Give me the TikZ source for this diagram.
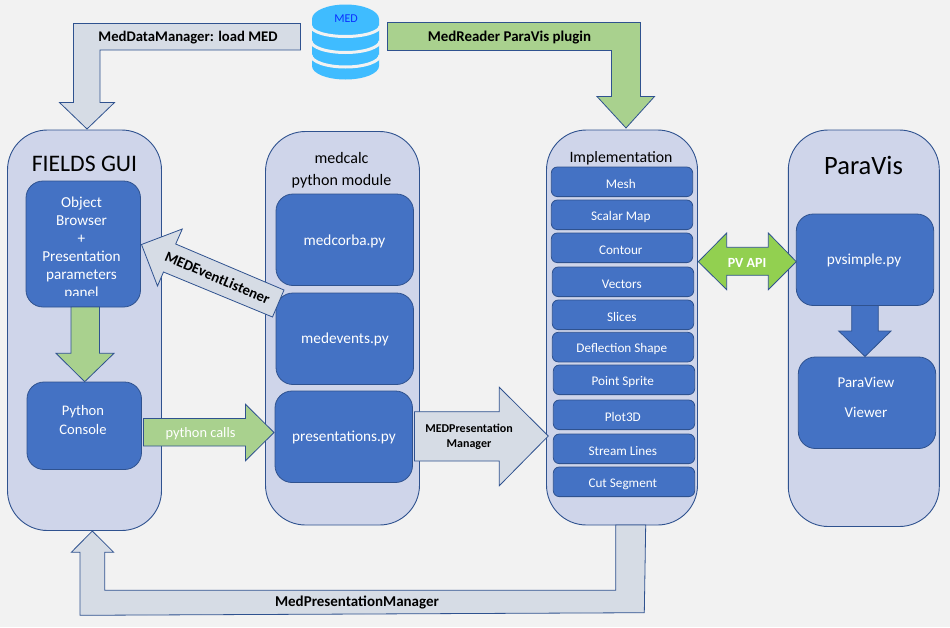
\documentclass[tikz,border=0pt]{standalone}
\usepackage{fontspec}
\usetikzlibrary{calc}
\setmainfont{Carlito}
\definecolor{bgc}{HTML}{F2F2F2}
\definecolor{panelc}{HTML}{CFD5EA}
\definecolor{edgec}{HTML}{2F528F}
\definecolor{bluec}{HTML}{4472C4}
\definecolor{greenc}{HTML}{A9D18E}
\definecolor{greyc}{HTML}{D6DCE5}
\definecolor{limec}{HTML}{92D050}
\definecolor{dbc}{HTML}{3FBCFF}
\definecolor{medtxt}{HTML}{0A32FF}
\tikzset{
 panelbox/.style={draw=edgec,fill=panelc,line width=.9pt,rounded corners=40pt},
 bluebox/.style={draw=edgec,fill=bluec,line width=.8pt,rounded corners=17pt},
 itembox/.style={draw=edgec,fill=bluec,line width=.8pt,rounded corners=6pt},
 greyarrow/.style={draw=edgec,fill=greyc,line width=.8pt,line join=miter},
 greenarrow/.style={draw=edgec,fill=greenc,line width=.8pt},
 limearrow/.style={draw=edgec,fill=limec,line width=.8pt},
 bluearrow/.style={draw=edgec,fill=bluec,line width=.8pt},
 wtxt/.style={text=white,font=\fontsize{13}{15}\selectfont,align=center,inner sep=0pt},
 itemtxt/.style={text=white,font=\fontsize{13.2}{15}\selectfont,inner sep=0pt},
 btxt/.style={text=black,font=\fontsize{13}{15}\selectfont\bfseries,align=center,inner sep=0pt},
 ttl/.style={text=black,inner sep=0pt,align=center},
 dbband/.style={draw=bgc,line width=3pt},
}
\begin{document}
\begin{tikzpicture}[x=1pt,y=-1pt]
\useasboundingbox (0,0) rectangle (950,627);
\fill[bgc] (0,0) rectangle (950,627);
% panels
\path[panelbox] (7.5,130) rectangle (161.5,530.5);
\path[panelbox] (265.5,131.5) rectangle (419.5,525);
\path[panelbox] (546.5,130) rectangle (697.5,525);
\path[panelbox] (788.3,130) rectangle (939.3,526.5);
\node[ttl,font=\fontsize{23.7}{25}\selectfont] at (84.5,164) {FIELDS GUI};
\node[ttl,font=\fontsize{16}{22}\selectfont] at (341.5,170.5) {medcalc\\python module};
\node[ttl,font=\fontsize{15.8}{18}\selectfont] at (621,158.5) {Implementation};
\node[ttl,font=\fontsize{26.5}{28}\selectfont] at (863.5,165) {ParaVis};
% blue boxes
\path[bluebox] (26,181) rectangle (140.5,307);
\path[bluebox] (27,382) rectangle (141.5,469.5);
\path[bluebox] (276,194) rectangle (413.5,285.5);
\path[bluebox] (276,293) rectangle (413.5,384.5);
\path[bluebox] (275,391) rectangle (412.5,482.5);
\path[bluebox] (796.3,214) rectangle (933.7,305.5);
\path[bluebox] (798.3,357) rectangle (935.7,448.5);
\begin{scope}
\clip (26,181) rectangle (140.5,295.5);
\node[wtxt,text width=110pt,font=\fontsize{15.2}{18}\selectfont] at (81.5,248.5) {Object\\Browser\\+\\Presentation\\parameters\\panel};
\end{scope}
\node[wtxt,font=\fontsize{14.6}{19}\selectfont] at (83,420) {Python\\Console};
\node[wtxt,font=\fontsize{15.3}{17}\selectfont] at (344.5,241) {medcorba.py};
\node[wtxt,font=\fontsize{15.3}{17}\selectfont] at (345,339.5) {medevents.py};
\node[wtxt,font=\fontsize{15.3}{17}\selectfont] at (344,437.5) {presentations.py};
\node[wtxt,font=\fontsize{15.3}{17}\selectfont] at (864,260.5) {pvsimple.py};
\node[wtxt,font=\fontsize{15}{30}\selectfont] at (866,397.5) {ParaView\\Viewer};
% implementation items
\foreach \xa/\ya/\tx in {551.3/167/Mesh,551.3/200/Scalar Map,551.3/233/Contour,552.3/267/Vectors,552.3/300/Slices,552.3/332.3/Deflection Shape,553.3/365/Point Sprite,553.3/400/Plot3D,553.3/434/Stream Lines,553.3/467/Cut Segment}{
 \path[itembox] (\xa,\ya) rectangle ++(141.4,29.6);
 \node[itemtxt] at ($(\xa,\ya)+(69.5,17)$) {\tx};
}
% block arrows
\path[greyarrow] (300.5,23.5) -- (73.5,23.5) -- (73.5,102.5) -- (59.5,102.5) -- (87,129) -- (114.5,102.5) -- (100,102.5) -- (100,50) -- (300.5,50) -- cycle;
\begin{scope}
\clip (90,25) rectangle (295,43);
\node[btxt,font=\fontsize{14.7}{16}\selectfont\bfseries] at (188,38) {MedDataManager: load MED};
\end{scope}
\path[greenarrow] (387.5,22.5) -- (640.5,22.5) -- (640.5,96.5) -- (654.5,96.5) -- (626,128) -- (597,96.5) -- (611.5,96.5) -- (611.5,50.5) -- (387.5,50.5) -- cycle;
\node[btxt,font=\fontsize{14.9}{16}\selectfont\bfseries] at (509.5,37.5) {MedReader ParaVis plugin};
\path[greyarrow] (141.5,244.5) -- (182.3,229) -- (175.7,244) -- (284,290) -- (272.5,317) -- (163.5,272) -- (157.5,286) -- cycle;
\node[btxt,font=\fontsize{14.8}{16}\selectfont\bfseries,rotate=-23] at (217.5,277.5) {MEDEventListener};
\path[greenarrow] (71,307) -- (99.5,307) -- (99.5,353.3) -- (114,353.3) -- (84.7,381.7) -- (56,353.3) -- (71,353.3) -- cycle;
\path[greenarrow] (143.5,418.5) -- (245.5,418.5) -- (245.5,404.3) -- (274,432.5) -- (245.5,460.7) -- (245.5,446) -- (143.5,446) -- cycle;
\node[wtxt,font=\fontsize{14.4}{16}\selectfont] at (200.5,433.5) {python calls};
\path[greyarrow] (414.5,411.7) -- (499.3,411.7) -- (499.3,387.3) -- (548.3,436) -- (499.3,485.7) -- (499.3,461) -- (414.5,461) -- cycle;
\node[btxt,font=\fontsize{12}{15}\selectfont\bfseries] at (469,436.5) {MEDPresentation\\Manager};
\path[greyarrow] (615.7,525) -- (645.7,525) -- (644.3,612.7) -- (80,615.3) -- (80,552.3) -- (71.3,552.3) -- (92.3,531) -- (113.7,552.3) -- (104.7,552.3) -- (104.7,590.3) -- (615.7,590.3) -- cycle;
\node[btxt,font=\fontsize{15}{16}\selectfont\bfseries] at (357,602.5) {MedPresentationManager};
\path[limearrow] (698.3,261.7) -- (726.7,233) -- (726.7,247.3) -- (768.3,247.3) -- (768.3,233) -- (796.3,261.7) -- (768.3,289.7) -- (768.3,275.3) -- (726.7,275.3) -- (726.7,289.7) -- cycle;
\node[wtxt,font=\fontsize{14}{16}\selectfont\bfseries] at (747,262.5) {PV API};
\path[bluearrow] (851.7,305.5) -- (878.3,305.5) -- (878.3,331) -- (891,331) -- (865,356.5) -- (838.7,331) -- (851.7,331) -- cycle;
% database
\fill[dbc] (312,19) -- (312,66) arc[x radius=33.5,y radius=13.5,start angle=180,end angle=0] -- (379,19) -- cycle;
\fill[dbc] (345.5,19) ellipse[x radius=33.5,y radius=14.5];
\draw[dbband] (311,26) arc[x radius=34.5,y radius=10.5,start angle=180,end angle=0];
\draw[dbband] (311,41) arc[x radius=34.5,y radius=11.5,start angle=180,end angle=0];
\draw[dbband] (311,55) arc[x radius=34.5,y radius=12,start angle=180,end angle=0];
\node[inner sep=0pt,text=medtxt,font=\fontsize{12}{14}\selectfont] (med) at (346,19) {MED};
\end{tikzpicture}
\end{document}
